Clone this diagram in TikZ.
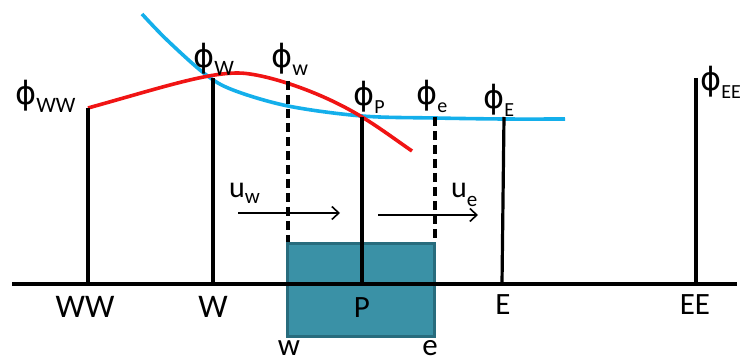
\documentclass[tikz,border=0pt]{standalone}
\usepackage{fontspec}
\setmainfont{Carlito}
\newfontfamily\phifont{DejaVu Sans}
\usetikzlibrary{arrows.meta}
\definecolor{boxfill}{RGB}{58,145,166}
\definecolor{boxedge}{RGB}{40,108,125}
\definecolor{cred}{RGB}{240,20,20}
\definecolor{cblue}{RGB}{20,175,235}
\newcommand{\phl}[2][22]{{\phifont\fontsize{32}{32}\selectfont ϕ}\raisebox{-8pt}{\fontsize{#1}{#1}\selectfont #2}}
\begin{document}
\begin{tikzpicture}[x=1pt,y=-1pt,
  stem/.style={line width=3.2pt},
  dstem/.style={line width=3.2pt,dash pattern=on 9pt off 5pt},
  lbl/.style={inner sep=0pt,font=\fontsize{31}{31}\selectfont},
  phlab/.style={inner sep=0pt,anchor=west},
  flow/.style={line width=1.6pt,-{Straight Barb[length=7pt,width=13pt,line width=1.6pt]}}]
\useasboundingbox (0,0) rectangle (740,363);
% cell
\node[draw=boxedge,fill=boxfill,line width=3pt,minimum width=147pt,minimum height=93pt,inner sep=0pt] (cell) at (360.5,290) {};
% curves
\draw[cblue,line width=3.6pt] plot[smooth,tension=0.55] coordinates {(142,14) (167,40) (205,74) (233,90) (288,106) (362,116) (435,118) (503,119) (565,119)};
\draw[cred,line width=3.6pt] (88,108) .. controls (160,88) and (205,73) .. (238,73)
  .. controls (262,73) and (318,90) .. (362,117)
  .. controls (380,128) and (396,140) .. (412,151);
% axis
\coordinate (axL) at (12,284);
\coordinate (axR) at (737,284);
\draw[line width=3.6pt] (axL) -- (axR);
% node tops / bottoms
\coordinate (WWt) at (88,108);  \coordinate (WWb) at (88,284);
\coordinate (Wt) at (213,78);   \coordinate (Wb) at (213,284);
\coordinate (wt) at (288,81);   \coordinate (wb) at (288,242);
\coordinate (Pt) at (362,117);  \coordinate (Pb) at (362,284);
\coordinate (et) at (435,117);  \coordinate (eb) at (435,242);
\coordinate (Et) at (504,117);  \coordinate (Eb) at (502,284);
\coordinate (EEt) at (696,78);  \coordinate (EEb) at (696,284);
\draw[stem] (WWt) -- (WWb);
\draw[stem] (Wt) -- (Wb);
\draw[stem] (Pt) -- (Pb);
\draw[stem] (Et) -- (Eb);
\draw[stem] (EEt) -- (EEb);
\draw[dstem] (wt) -- (wb);
\draw[dstem] (et) -- (eb);
% velocity arrows
\coordinate (uws) at (238,213); \coordinate (uwe) at (340,213);
\coordinate (ues) at (378,215); \coordinate (uee) at (478,215);
\draw[flow] (uws) -- (uwe);
\draw[flow] (ues) -- (uee);
\node[phlab] (uw) at (229,193) {\fontsize{30}{30}\selectfont u\raisebox{-6pt}{\fontsize{21}{21}\selectfont w}};
\node[phlab] (ue) at (451,195) {\fontsize{30}{30}\selectfont u\raisebox{-9pt}{\fontsize{21}{21}\selectfont e}};
% phi labels
\node[phlab] (pWW) at (15,96) {\phl{WW}};
\node[phlab] (pW) at (193,59) {\phl{W}};
\node[phlab] (pw) at (271,59) {\phl{w}};
\node[phlab] (pP) at (353,97) {\phl[20]{P}};
\node[phlab] (pe) at (416,96) {\phl[20]{e}};
\node[phlab] (pE) at (483,100) {\phl[20]{E}};
\node[phlab] (pEE) at (700,82) {\phl[20]{EE}};
% axis labels
\node[lbl] (lWW) at (85,307) {\fontsize{33}{33}\selectfont WW};
\node[lbl] (lW) at (213,307) {\fontsize{33}{33}\selectfont W};
\node[lbl] (lP) at (362,308) {P};
\node[lbl] (lE) at (503,305) {E};
\node[lbl] (lEE) at (695,305) {EE};
\node[lbl,anchor=base] (lw) at (289,356) {w};
\node[lbl,anchor=base] (le) at (430,356) {e};
\end{tikzpicture}
\end{document}
